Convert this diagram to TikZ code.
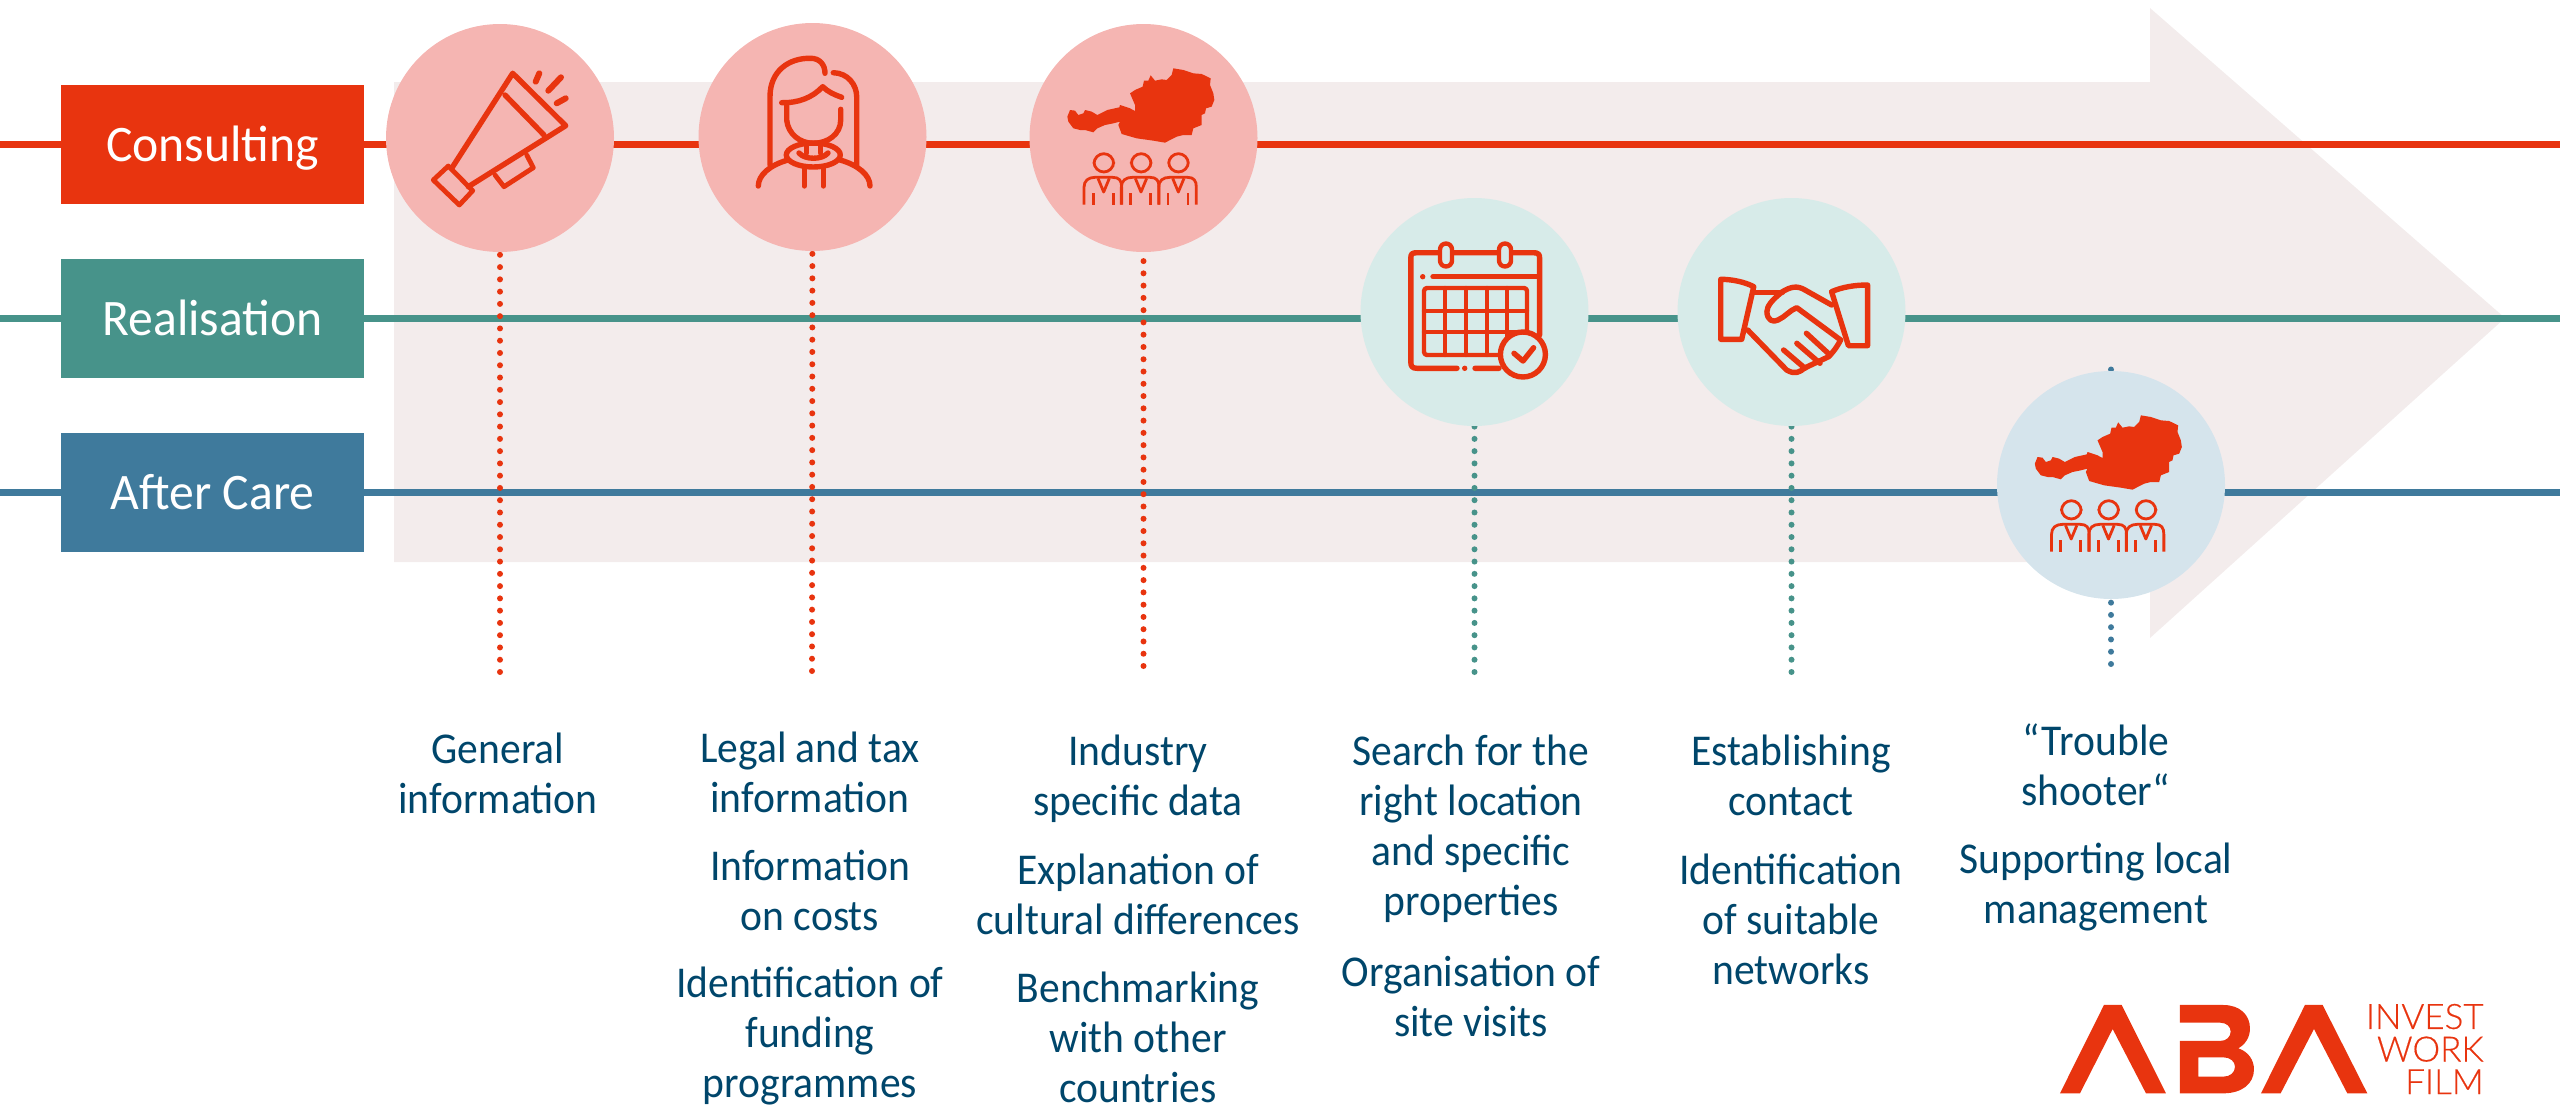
\documentclass[tikz,border=0pt]{standalone}
\usepackage{fontspec}
\setmainfont{Carlito}
\newfontfamily\phasefont{Carlito}[FakeStretch=0.97]
\newfontfamily\descfont{Carlito}[FakeStretch=0.945]
\newfontfamily\logofont{Lato Light}[FakeBold=0.4]
\definecolor{cred}{HTML}{E8340F}
\definecolor{cteal}{HTML}{47938A}
\definecolor{cblue}{HTML}{3F7A9C}
\definecolor{lred}{HTML}{F5B5B2}
\definecolor{lteal}{HTML}{D7EBE9}
\definecolor{lblue}{HTML}{D5E4EC}
\definecolor{arrowbg}{HTML}{F3ECEC}
\definecolor{txt}{HTML}{00466B}
\tikzset{
 x=0.5pt,y=-0.5pt,
 phase/.style={minimum width=151.5pt,minimum height=59.5pt,inner sep=0pt,text=white,text height=16.5pt,text depth=0pt,font=\phasefont\fontsize{25.6}{25}\selectfont},
 track/.style={line width=3.4pt},
 stepcircle/.style={circle,minimum size=114pt,inner sep=0pt},
 dots/.style={line width=3pt,line cap=round,dash pattern=on 0pt off 6.135pt},
 desc/.style={text=txt,align=center,inner sep=0pt,font=\descfont\fontsize{22}{25}\selectfont},
 ic/.style={draw=cred,line width=2.7pt,line cap=round,line join=round},
 austria/.pic={
  \begin{scope}[scale=1/3,shift={(-370.5,-264)}]
  \fill[cred] (142,200)--(150,180)--(165,182)--(175,195)--(190,190)--(195,180)--(215,185)--(232,195)--(262,180)--(298,172)--(300,165)--(330,175)--(345,183)--(345,165)--(330,130)--(345,120)--(368,110)--(372,92)--(385,92)--(392,76)--(405,92)--(425,88)--(440,90)--(455,75)--(460,55)--(490,60)--(520,70)--(545,72)--(572,85)--(570,105)--(580,130)--(583,150)--(575,170)--(558,175)--(555,190)--(545,195)--(545,225)--(520,235)--(515,255)--(490,255)--(470,260)--(435,278)--(400,272)--(350,265)--(305,252)--(295,225)--(300,215)--(280,220)--(255,225)--(232,235)--(220,247)--(195,240)--(180,240)--(160,235)--(145,215)--cycle;
  \foreach \d in {0,112,224}{
   \begin{scope}[shift={(\d,0)}]
   \draw[draw=cred,line width=1.4pt,rounded corners=5pt] (222,311) rectangle (281,366);
   \draw[draw=cred,line width=1.4pt] (192,464)--(192,412) .. controls (192,392) and (205,382) .. (225,382)--(278,382) .. controls (298,382) and (305,392) .. (305,412)--(305,464);
   \draw[draw=cred,line width=1.4pt,line join=round] (234,385)--(251,426)--(268,385);
   \draw[draw=cred,line width=1.4pt] (220,430)--(220,464) (280,430)--(280,464);
   \end{scope}}
  \end{scope}
 }
}
\begin{document}
\begin{tikzpicture}
\useasboundingbox (0,0) rectangle (2560,1108);
\fill[arrowbg] (394,82)--(2150,82)--(2150,8)--(2505,318)--(2150,638)--(2150,562)--(394,562)--cycle;
% tracks
\node[phase,fill=cred] (consulting) at (212.5,144.5) {Consulting};
\node[phase,fill=cteal] (realisation) at (212.5,318.5) {Realisation};
\node[phase,fill=cblue] (aftercare) at (212.5,492.5) {After Care};
\coordinate (l1) at (0,144.5); \coordinate (r1) at (2560,144.5);
\coordinate (l2) at (0,318.5); \coordinate (r2) at (2560,318.5);
\coordinate (l3) at (0,492.5); \coordinate (r3) at (2560,492.5);
\draw[track,cred] (l1)--(consulting.west) (consulting.east)--(r1);
\draw[track,cteal] (l2)--(realisation.west) (realisation.east)--(r2);
\draw[track,cblue] (l3)--(aftercare.west) (aftercare.east)--(r3);
% dotted
\coordinate (d1) at (500,672); \coordinate (d2) at (812,671); \coordinate (d3) at (1143.5,666);
\coordinate (d4) at (1474.5,672); \coordinate (d5) at (1791.5,672); \coordinate (d6) at (2111,664); \coordinate (d6t) at (2111,368);
\coordinate (s1) at (500,138); \coordinate (s2) at (812.5,137); \coordinate (s3) at (1143.5,138);
\coordinate (s4) at (1474.5,312); \coordinate (s5) at (1791.5,312);
\draw[dots,cred] (d1)--(s1);
\draw[dots,cred] (d2)--(s2);
\draw[dots,cred] (d3)--(s3);
\draw[dots,cteal] (d4)--(s4);
\draw[dots,cteal] (d5)--(s5);
\draw[dots,cblue] (d6)--(d6t);
% circles
\node[stepcircle,fill=lred] (c1) at (s1) {};
\node[stepcircle,fill=lred] (c2) at (s2) {};
\node[stepcircle,fill=lred] (c3) at (s3) {};
\node[stepcircle,fill=lteal] (c4) at (s4) {};
\node[stepcircle,fill=lteal] (c5) at (s5) {};
\node[stepcircle,fill=lblue] (c6) at (2111,485) {};
% megaphone
\draw[ic] (451.7,168.3)--(512.7,73.3)--(565.7,125.7)--(468.3,186.7);
\draw[ic] (505,95)--(544,135);
\draw[ic,line width=2.4pt] (433.3,180)--(448.3,166)--(472.7,190.7)--(459.3,205)--cycle;
\draw[ic,line width=2.4pt] (495,175)--(504,186.7)--(533.3,167.7)--(526.7,155);
\draw[ic,line width=3pt] (539.3,73.3)--(535.7,81.7) (561,77.3)--(548.3,90.7) (565.7,98.3)--(556.7,103.3);
% woman
\draw[ic] (770,165)--(770,96.7) .. controls (770,70) and (790,58) .. (810,58.3) .. controls (820,58) and (825,65) .. (825,73.3);
\draw[ic] (833.3,72.7) .. controls (848,73) and (856.7,85) .. (856.7,96.7)--(856.7,165);
\draw[ic] (781.7,102.7) .. controls (798,103) and (812,98) .. (822.7,86.7) .. controls (828,92) and (835,95) .. (841.7,97.3);
\draw[ic] (786.7,103.3)--(786.7,120) .. controls (788,134) and (800,143.3) .. (813.3,143.3) .. controls (828,143.3) and (840.7,134) .. (840.7,120)--(840.7,109.3);
\draw[ic] (813.3,155) ellipse [x radius=27,y radius=12];
\draw[ic] (799,153) .. controls (805,160) and (822,160) .. (828,153);
\draw[ic] (806.5,145)--(806.5,153) (820.5,145)--(820.5,153);
\draw[ic] (758.3,186) .. controls (758.3,175) and (770,165) .. (788,160);
\draw[ic] (870,186) .. controls (870,175) and (858,165) .. (840,160);
\draw[ic] (804.3,168)--(804.3,186) (823.3,168)--(823.3,186);
% map + people
\pic (map1) at (s3) {austria};
\pic (map2) at (c6) {austria};
% calendar
\draw[ic] (1499,368.3)--(1475,368.3) (1464.7,368.3)--(1464.7,368.3) (1457,368.3)--(1417,368.3) .. controls (1412,368.3) and (1410.8,366) .. (1410.8,362)--(1410.8,258) .. controls (1410.8,254) and (1412,252.7) .. (1417,252.7)--(1533,252.7) .. controls (1538,252.7) and (1539.6,254) .. (1539.6,258)--(1539.6,335);
\filldraw[ic,fill=lteal,line width=2.2pt,rounded corners=3pt] (1440,243.5) rectangle (1452,266.5);
\filldraw[ic,fill=lteal,line width=2.2pt,rounded corners=3pt] (1499,243.5) rectangle (1511,266.5);
\draw[ic] (1422.7,276.7)--(1422.7,276.7) (1433,276.7)--(1537,276.7);
\draw[ic,line width=2.2pt,rounded corners=1.5pt] (1424,288) rectangle (1527,355);
\draw[ic,line width=2.2pt] (1445,288)--(1445,355) (1466,288)--(1466,355) (1487,288)--(1487,355) (1507,288)--(1507,355) (1424,310.7)--(1527,310.7) (1424,331.7)--(1527,331.7);
\filldraw[ic,fill=lteal] (1522.9,354.5) circle[radius=22.5];
\draw[ic] (1514,353.3)--(1523,361)--(1533.6,347.7);
% handshake
\draw[ic] (1720.7,279.3) .. controls (1732,279.3) and (1745,282) .. (1753.7,286.7)--(1741.7,339.3)--(1720.7,339.3)--cycle;
\draw[ic] (1867.6,285) .. controls (1855,285) and (1842,287) .. (1831.6,291.7)--(1848.4,345.7)--(1867.6,345.7)--cycle;
\draw[ic] (1753.7,292.7)--(1782.4,292.7);
\draw[ic] (1831.6,305)--(1805,290) .. controls (1797,285) and (1790,287) .. (1782,292) .. controls (1772,300) and (1767,306) .. (1766.9,311.7) .. controls (1767,320) and (1773,323) .. (1778,320) .. controls (1785,317) and (1790,310) .. (1796.8,307.7)--(1840.6,340);
\draw[ic] (1747.7,330)--(1786.6,370) .. controls (1795,375) and (1800,372) .. (1804.6,368)--(1828.6,356.7) .. controls (1835,350) and (1838,345) .. (1840.6,340);
\draw[ic] (1806.4,333.3)--(1830,355) (1796.8,343.3)--(1820,363.3) (1783.6,350)--(1805,368.3);
% texts
\node[desc] (t1) at (498,773.5) {General\\information};
\node[desc] (t2a) at (810,772.5) {Legal and tax\\information};
\node[desc] (t2b) at (810,890.5) {Information\\on costs};
\node[desc] (t2c) at (810,1036) {Identification of\\funding\\programmes};
\node[desc] (t3a) at (1138,778.5) {Industry\\specific data};
\node[desc] (t3b) at (1138,894.5) {Explanation of\\cultural differences};
\node[desc] (t3c) at (1138,1037) {Benchmarking\\with other\\countries};
\node[desc] (t4a) at (1471,829) {Search for the\\right location\\and specific\\properties};
\node[desc] (t4b) at (1471,996) {Organisation of\\site visits};
\node[desc] (t5a) at (1791,775.5) {Establishing\\contact};
\node[desc] (t5b) at (1791,919) {Identification\\of suitable\\networks};
\node[desc] (t6a) at (2096,765) {“Trouble\\shooter“};
\node[desc] (t6b) at (2096,886.5) {Supporting local\\management};
% logo
\begin{scope}[scale=1/3,shift={(6060,2940)}]
\fill[cred] (120,340)--(252,75)--(305,75)--(438,340)--(378,340)--(278,147)--(180,340)--cycle;
\fill[cred] (723,340)--(855,75)--(908,75)--(1042,340)--(982,340)--(882,147)--(782,340)--cycle;
\fill[cred,even odd rule] (480,75)--(610,75) .. controls (660,75) and (690,105) .. (690,145) .. controls (690,170) and (678,192) .. (655,205) .. controls (685,215) and (702,240) .. (702,268) .. controls (702,312) and (665,340) .. (610,340)--(480,340)--(480,183)--(600,183) .. controls (620,183) and (632,170) .. (632,155) .. controls (632,140) and (620,128) .. (600,128)--(480,128)--cycle
 (535,232)--(535,290)--(610,290) .. controls (630,290) and (645,278) .. (645,260) .. controls (645,244) and (630,232) .. (610,232)--cycle;
\end{scope}
\node[anchor=east,inner sep=0pt,text=cred,align=right,font=\logofont\fontsize{17.5}{16.3}\selectfont] (logotext) at (2484,1049) {INVEST\\WORK\\FILM};
\end{tikzpicture}
\end{document}
